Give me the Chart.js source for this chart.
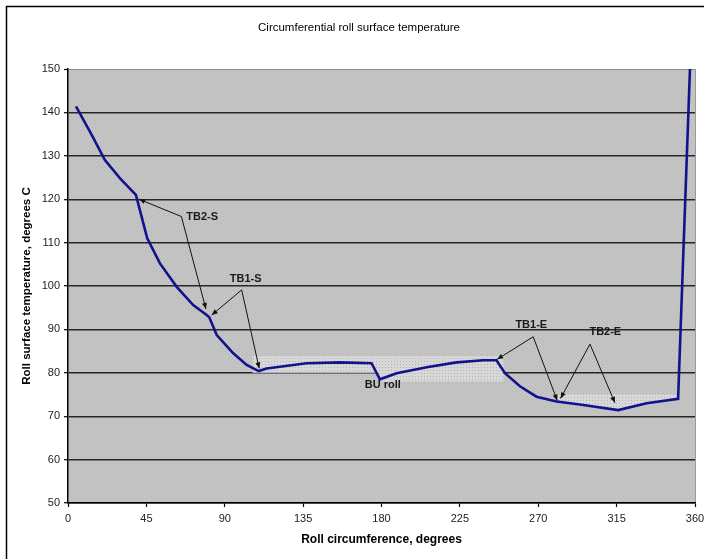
<!DOCTYPE html>
<html>
<head>
<meta charset="utf-8">
<script src="https://cdn.jsdelivr.net/npm/chart.js@4/dist/chart.umd.min.js"></script>
<style>
html,body{margin:0;padding:0;background:#fff;}
#wrap{width:704px;height:559px;position:relative;}
</style>
</head>
<body>
<div id="wrap"><canvas id="c" width="704" height="559"></canvas></div>
<script>
// ---- data ----
const chartTitle = 'Circumferential roll surface temperature';
const xTitle = 'Roll circumference, degrees';
const yTitle = 'Roll surface temperature, degrees C';
const xTicks = [0, 45, 90, 135, 180, 225, 270, 315, 360];
const yTicks = [50, 60, 70, 80, 90, 100, 110, 120, 130, 140, 150];

const angleDeg = [4.6, 13.6, 21.2, 29.9, 39, 45.5, 52.8, 62.4, 71.9, 79.6, 81.1, 85.4, 94.9, 102.6, 109.5, 114, 137, 156, 174.3, 179.1, 188.7, 205.9, 223.1, 238.4, 246, 250.9, 259.5, 269, 280.5, 293.9, 315.9, 332.2, 350.3, 358];
const surfaceTemp = [141.4, 134.8, 129, 124.8, 121, 111, 105.2, 99.8, 95.6, 93.3, 92.8, 88.7, 84.5, 81.8, 80.4, 81.0, 82.2, 82.4, 82.2, 78.5, 79.9, 81.3, 82.4, 82.9, 82.9, 79.9, 76.9, 74.5, 73.4, 72.7, 71.4, 73.0, 74.0, 160];

// contact bands (outline points, degrees / temperature)
const band1X = [106, 178, 180, 250, 250, 180, 178, 106];
const band1Y = [83.8, 83.8, 83.8, 83.8, 78, 78, 80, 80];
const band2X = [281, 350, 350, 332.2, 315.9, 293.9, 281];
const band2Y = [75.2, 75.0, 74.0, 73.0, 71.4, 72.7, 73.4];

// annotations: label text, label position, elbow, arrow targets
const annLabels = ['TB2-S', 'TB1-S', 'TB1-E', 'TB2-E', 'BU roll'];
const annLabelX = [77, 102, 266, 308.5, 180.8];
const annLabelY = [116, 101.6, 91, 89.4, 77.2];
const annElbowX = [65.1, 99.7, 267.1, 299.7, null];
const annElbowY = [116, 99.1, 88.3, 86.6, null];
const annTargets = [
  [[40.8, 120.0], [79.2, 94.7]],
  [[82.5, 93.3], [109.8, 81.0]],
  [[246.4, 83.1], [280.9, 73.6]],
  [[282.8, 74.1], [314, 73.1]],
  []
];

// ---- patterns ----
function makePattern(size, base, dot, dots) {
  const c = document.createElement('canvas');
  c.width = size; c.height = size;
  const g = c.getContext('2d');
  g.fillStyle = base; g.fillRect(0, 0, size, size);
  g.fillStyle = dot;
  dots.forEach(p => g.fillRect(p[0], p[1], 1, 1));
  return g.createPattern(c, 'repeat');
}
const ctx = document.getElementById('c').getContext('2d');
const plotPattern = makePattern(4, '#c0c0c0', '#d0d0d0', [[0,0],[2,2]]);
const bandPattern = makePattern(3, '#d8d8d8', '#b4b4b4', [[1,1]]);

const toXY = (xs, ys) => xs.map((x, i) => ({x: x, y: ys[i]}));

const bgPlugin = {
  id: 'bg',
  beforeDraw(chart) {
    const c = chart.ctx, a = chart.chartArea;
    c.save();
    c.fillStyle = '#fff';
    c.fillRect(0, 0, chart.width, chart.height);
    c.strokeStyle = '#000';
    c.lineWidth = 1.5;
    c.beginPath();
    c.moveTo(6.5, chart.height + 2);
    c.lineTo(6.5, 6.5);
    c.lineTo(chart.width + 2, 6.5);
    c.stroke();
    c.fillStyle = plotPattern;
    c.fillRect(a.left, a.top, a.right - a.left, a.bottom - a.top);
    c.strokeStyle = '#9a9a9a';
    c.lineWidth = 1;
    c.beginPath();
    c.moveTo(a.right + 0.5, a.top);
    c.lineTo(a.right + 0.5, a.bottom);
    c.stroke();
    c.restore();
  }
};

const annPlugin = {
  id: 'ann',
  afterDatasetsDraw(chart) {
    const c = chart.ctx, xs = chart.scales.x, ys = chart.scales.y;
    c.save();
    c.strokeStyle = '#111';
    c.fillStyle = '#111';
    c.lineWidth = 1;
    annLabels.forEach((t, i) => {
      if (annElbowX[i] !== null) {
        const ex = xs.getPixelForValue(annElbowX[i]);
        const ey = ys.getPixelForValue(annElbowY[i]);
        annTargets[i].forEach(tg => {
          const tx = xs.getPixelForValue(tg[0]);
          const ty = ys.getPixelForValue(tg[1]);
          c.beginPath();
          c.moveTo(ex, ey);
          c.lineTo(tx, ty);
          c.stroke();
          const ang = Math.atan2(ty - ey, tx - ex);
          const L = 6, W = 2.5;
          c.beginPath();
          c.moveTo(tx, ty);
          c.lineTo(tx - L * Math.cos(ang) + W * Math.sin(ang), ty - L * Math.sin(ang) - W * Math.cos(ang));
          c.lineTo(tx - L * Math.cos(ang) - W * Math.sin(ang), ty - L * Math.sin(ang) + W * Math.cos(ang));
          c.closePath();
          c.fill();
        });
      }
      c.font = 'bold 11px "Liberation Sans", Arial, sans-serif';
      c.fillStyle = '#1a1a1a';
      c.textAlign = 'center';
      c.textBaseline = 'middle';
      c.fillText(t, xs.getPixelForValue(annLabelX[i]), ys.getPixelForValue(annLabelY[i]));
      c.fillStyle = '#111';
    });
    c.restore();
  }
};

const FONT = '"Liberation Sans", Arial, sans-serif';

new Chart(ctx, {
  type: 'line',
  data: {
    datasets: [
      {
        label: 'Roll surface temperature',
        data: toXY(angleDeg, surfaceTemp),
        borderColor: '#12128c',
        borderWidth: 2.6,
        pointRadius: 0,
        tension: 0,
        fill: false,
        order: 0
      },
      {
        label: 'band1',
        data: toXY(band1X, band1Y),
        borderWidth: 0,
        borderColor: 'rgba(0,0,0,0)',
        backgroundColor: bandPattern,
        pointRadius: 0,
        fill: 'shape',
        order: 1
      },
      {
        label: 'band2',
        data: toXY(band2X, band2Y),
        borderWidth: 0,
        borderColor: 'rgba(0,0,0,0)',
        backgroundColor: bandPattern,
        pointRadius: 0,
        fill: 'shape',
        order: 1
      }
    ]
  },
  options: {
    responsive: false,
    animation: false,
    events: [],
    layout: { padding: { left: 14, right: 0, top: 0, bottom: 0 } },
    plugins: {
      legend: { display: false },
      tooltip: { enabled: false },
      title: {
        display: true,
        text: chartTitle,
        color: '#000',
        font: { family: FONT, size: 11.5, weight: 'normal' },
        padding: { top: 21, bottom: 34.2 }
      }
    },
    scales: {
      x: {
        type: 'linear',
        min: 0, max: 360,
        afterBuildTicks(s) { s.ticks = xTicks.map(v => ({value: v})); },
        afterFit(s) { s.height = 56; s.paddingLeft = 0; s.paddingRight = 9; },
        ticks: { color: '#222', font: { family: FONT, size: 11 }, padding: 5, maxRotation: 0, autoSkip: false },
        grid: { drawOnChartArea: false, drawTicks: true, tickLength: 4, tickColor: '#000', tickWidth: 1.2 },
        border: { display: true, color: '#000', width: 1.5 },
        title: { display: true, text: xTitle, color: '#000', font: { family: FONT, size: 12, weight: 'bold' }, padding: { top: 4, bottom: 12 } }
      },
      y: {
        type: 'linear',
        min: 50, max: 150,
        afterBuildTicks(s) { s.ticks = yTicks.map(v => ({value: v})); },
        afterFit(s) { s.width = 54; },
        ticks: { color: '#222', font: { family: FONT, size: 11 }, padding: 4, autoSkip: false },
        grid: {
          color: c => (c.tick && c.tick.value === 150) ? '#8a8a8a' : '#262626',
          lineWidth: c => (c.tick && c.tick.value === 150) ? 1 : 1.4,
          tickLength: 4, tickColor: '#000', tickWidth: 1.2
        },
        border: { display: true, color: '#000', width: 1.5 },
        title: { display: true, text: yTitle, color: '#000', font: { family: FONT, size: 11.5, weight: 'bold' }, padding: { top: 6, bottom: 4 } }
      }
    }
  },
  plugins: [bgPlugin, annPlugin]
});
</script>
</body>
</html>
